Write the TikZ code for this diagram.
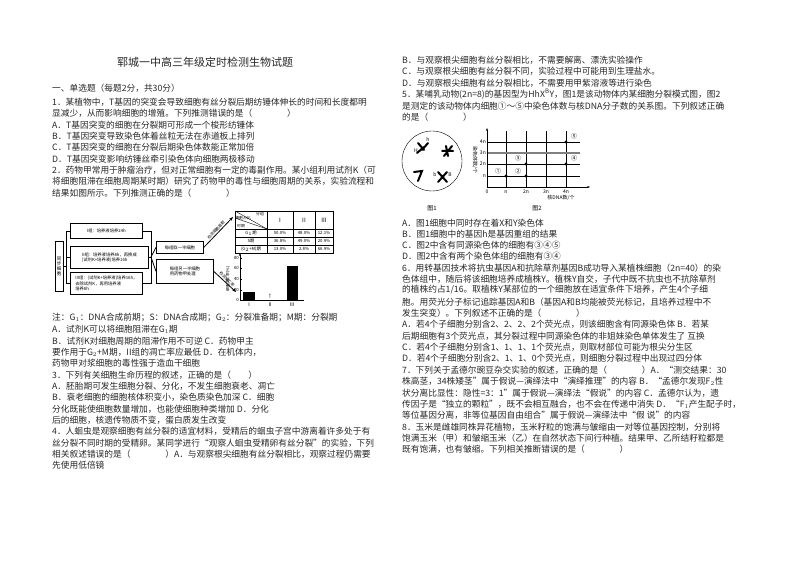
\documentclass[tikz,border=0pt]{standalone}
\usepackage{fontspec}
\setmainfont{Noto Sans CJK SC}
\usetikzlibrary{arrows.meta}
\newcommand\tl[3]{\node[txt] (#1) at (52,#2) {#3};}
\newcommand\tr[3]{\node[txt] (#1) at (402,#2) {#3};}
\begin{document}
\begin{tikzpicture}[x=1pt,y=-1pt,
  txt/.style={anchor=west,inner sep=0,font=\fontsize{8.7}{10}\selectfont,text=black!85},
  tiny/.style={inner sep=0,font=\fontsize{4.3}{5}\selectfont},
  bx/.style={draw,thick,inner sep=1pt,font=\fontsize{4.3}{5.2}\selectfont,align=left,anchor=north west},
  dot/.style={circle,fill,inner sep=1.1pt}]
\useasboundingbox (0,0) rectangle (794,561);
\node[font=\fontsize{11}{12}\selectfont,text=black!85] (title) at (205,62) {郓城一中高三年级定时检测生物试题};
\tl{s0}{88}{一、单选题（每题2分，共30分）}
\tl{a1}{102}{1．某植物中，T基因的突变会导致细胞有丝分裂后期纺锤体伸长的时间和长度都明}
\tl{a2}{113}{显减少，从而影响细胞的增殖。下列推测错误的是（　　　　）}
\tl{a3}{125}{A．T基因突变的细胞在分裂期可形成一个梭形纺锤体}
\tl{a4}{136}{B．T基因突变导致染色体着丝粒无法在赤道板上排列}
\tl{a5}{147}{C．T基因突变的细胞在分裂后期染色体数能正常加倍}
\tl{a6}{159}{D．T基因突变影响纺锤丝牵引染色体向细胞两极移动}
\tl{a7}{170}{2．药物甲常用于肿瘤治疗，但对正常细胞有一定的毒副作用。某小组利用试剂K（可}
\tl{a8}{181}{将细胞阻滞在细胞周期某时期）研究了药物甲的毒性与细胞周期的关系，实验流程和}
\tl{a9}{193}{结果如图所示。下列推测正确的是（　　　　）}
\tl{b1}{318}{注：G$_1$：DNA合成前期；S：DNA合成期；G$_2$：分裂准备期；M期：分裂期}
\tl{b2}{329}{A．试剂K可以将细胞阻滞在G$_1$期}
\tl{b3}{341}{B．试剂K对细胞周期的阻滞作用不可逆 C．药物甲主}
\tl{b4}{352}{要作用于G$_2$+M期，II组的凋亡率应最低 D．在机体内，}
\tl{b5}{363}{药物甲对浆细胞的毒性强于造血干细胞}
\tl{b6}{375}{3．下列有关细胞生命历程的叙述，正确的是（　　）}
\tl{b7}{386}{A．胚胎期可发生细胞分裂、分化，不发生细胞衰老、凋亡}
\tl{b8}{397}{B．衰老细胞的细胞核体积变小，染色质染色加深 C．细胞}
\tl{b9}{409}{分化既能使细胞数量增加，也能使细胞种类增加 D．分化}
\tl{b10}{420}{后的细胞，核遗传物质不变，蛋白质发生改变}
\tl{b11}{431}{4．人蛔虫是观察细胞有丝分裂的适宜材料，受精后的蛔虫子宫中游离着许多处于有}
\tl{b12}{443}{丝分裂不同时期的受精卵。某同学进行“观察人蛔虫受精卵有丝分裂”的实验，下列}
\tl{b13}{454}{相关叙述错误的是（　　　　）A．与观察根尖细胞有丝分裂相比，观察过程仍需要}
\tl{b14}{465}{先使用低倍镜}
% right column
\tr{c1}{60}{B．与观察根尖细胞有丝分裂相比，不需要解离、漂洗实验操作}
\tr{c2}{71}{C．与观察根尖细胞有丝分裂不同，实验过程中可能用到生理盐水。}
\tr{c3}{83}{D．与观察根尖细胞有丝分裂相比，不需要用甲紫溶液等进行染色}
\tr{c4}{94}{5．某哺乳动物(2n=8)的基因型为HhX$^{\rm B}$Y，图1是该动物体内某细胞分裂模式图，图2}
\tr{c5}{106}{是测定的该动物体内细胞①～⑤中染色体数与核DNA分子数的关系图。下列叙述正确}
\tr{c6}{117}{的是（　　　　）}
\tr{d1}{223}{A．图1细胞中同时存在着X和Y染色体}
\tr{d2}{234}{B．图1细胞中的基因h是基因重组的结果}
\tr{d3}{245}{C．图2中含有同源染色体的细胞有③④⑤}
\tr{d4}{256}{D．图2中含有两个染色体组的细胞有③④}
\tr{e1}{268}{6．用转基因技术将抗虫基因A和抗除草剂基因B成功导入某植株细胞（2n=40）的染}
\tr{e2}{279}{色体组中，随后将该细胞培养成植株Y。植株Y自交，子代中既不抗虫也不抗除草剂}
\tr{e3}{290}{的植株约占1/16。取植株Y某部位的一个细胞放在适宜条件下培养，产生4个子细}
\tr{e4}{302}{胞。用荧光分子标记追踪基因A和B（基因A和B均能被荧光标记，且培养过程中不}
\tr{e5}{313}{发生突变）。下列叙述不正确的是（　　　　）}
\tr{e6}{324}{A．若4个子细胞分别含2、2、2、2个荧光点，则该细胞含有同源染色体 B．若某}
\tr{e7}{336}{后期细胞有3个荧光点，其分裂过程中同源染色体的非姐妹染色单体发生了 互换}
\tr{e8}{347}{C．若4个子细胞分别含1、1、1、1个荧光点，则取材部位可能为根尖分生区}
\tr{e9}{358}{D．若4个子细胞分别含2、1、1、0个荧光点，则细胞分裂过程中出现过四分体}
\tr{f1}{370}{7．下列关于孟德尔豌豆杂交实验的叙述，正确的是（　　　　）A．“测交结果：30}
\tr{f2}{381}{株高茎，34株矮茎”属于假说—演绎法中“演绎推理”的内容 B．“孟德尔发现F$_2$性}
\tr{f3}{393}{状分离比显性：隐性=3：1”属于假说—演绎法“假说”的内容 C．孟德尔认为，遗}
\tr{f4}{404}{传因子是“独立的颗粒”，既不会相互融合，也不会在传递中消失 D．“F$_1$产生配子时，}
\tr{f5}{415}{等位基因分离，非等位基因自由组合”属于假说—演绎法中“假 说”的内容}
\tr{g1}{427}{8．玉米是雌雄同株异花植物，玉米籽粒的饱满与皱缩由一对等位基因控制，分别将}
\tr{g2}{438}{饱满玉米（甲）和皱缩玉米（乙）在自然状态下间行种植。结果甲、乙所结籽粒都是}
\tr{g3}{449}{既有饱满，也有皱缩。下列相关推断错误的是（　　　　）}
% ---- left diagram
\node[draw,thick,minimum width=8pt,minimum height=50pt,inner sep=0,font=\fontsize{4.5}{5}\selectfont,align=center] (sync) at (59,266) {同\\步\\细\\胞};
\node[bx,minimum width=72pt,minimum height=15pt] (g1) at (70,223) {I组：培养液培养24h};
\node[bx,minimum width=78pt,minimum height=22pt] (g2) at (70,246) {II组：培养液培养8h，再换成\\(试剂K+培养液)培养16h};
\node[bx,minimum width=72pt,minimum height=22pt] (g3) at (70,272) {III组：(试剂K+培养液)培养16h，\\去除试剂K，再用培养液\\培养8h};
\coordinate (lb) at (66,266);
\draw[thick] (sync.east) -- (lb);
\draw[thick] (lb |- g1.west) -- (g1.west);
\draw[thick] (lb |- g3.west) -- (g3.west);
\draw[thick] (lb |- g1.west) -- (lb |- g3.west);
\draw[thick] (lb |- g2.west) -- (g2.west);
\coordinate (rb) at (151,257);
\draw[thick] (g1.east) -- (rb |- g1.east) -- (rb |- g3.east) -- (g3.east);
\draw[thick] (g2.east) -- (rb |- g2.east);
\node[bx,minimum width=47pt,minimum height=12pt] (h1) at (156,241) {每组取一半细胞};
\node[bx,minimum width=57pt,minimum height=24pt] (h2) at (156,259) {每组另一半细胞\\用药物甲处理};
\draw[thick] (rb) -- (h1.west);
\draw[thick] (rb) -- (h2.west);
% table
\draw[thick] (235,211) rectangle (333,253);
\foreach \yy in {229,237,245} \draw (235,\yy) -- (333,\yy);
\foreach \xx in {267,293,315} \draw (\xx,211) -- (\xx,253);
\draw (235,211) -- (267,229); \draw (235,218) -- (267,229);
\node[tiny,font=\fontsize{3.8}{4}\selectfont] (th1) at (260,214.5) {分组};
\node[tiny,font=\fontsize{3.8}{4}\selectfont] (th2) at (243,218.5) {细胞占比};
\node[tiny,font=\fontsize{3.8}{4}\selectfont] (th3) at (241,226) {时期};
\node[tiny,font=\fontsize{6}{6}\selectfont] (c1h) at (280,220) {I};
\node[tiny,font=\fontsize{6}{6}\selectfont] (c2h) at (304,220) {II};
\node[tiny,font=\fontsize{6}{6}\selectfont] (c3h) at (324,220) {III};
\node[tiny] (r1) at (251,233) {G$_1$期}; \node[tiny] (r1a) at (280,233) {50.0\%}; \node[tiny] (r1b) at (304,233) {48.0\%}; \node[tiny] (r1c) at (324,233) {12.1\%};
\node[tiny] (r2) at (251,241) {S期}; \node[tiny] (r2a) at (280,241) {36.8\%}; \node[tiny] (r2b) at (304,241) {49.0\%}; \node[tiny] (r2c) at (324,241) {20.9\%};
\node[tiny] (r3) at (251,249) {(G$_2$+M)期}; \node[tiny] (r3a) at (280,249) {13.0\%}; \node[tiny] (r3b) at (304,249) {2.8\%}; \node[tiny] (r3c) at (324,249) {66.9\%};
% bar chart
\draw[thick,-{Stealth[length=3pt]}] (240,300) -- (240,253);
\draw[thick] (240,300) -- (304,300);
\foreach \v/\yy in {0/300,20/290,40/279,60/268,80/258} {\draw (240,\yy) -- (242,\yy); \node[tiny,anchor=east] at (239,\yy) {\v};}
\node[tiny,rotate=90,font=\fontsize{3.8}{4}\selectfont] (ylab) at (228,279) {细胞凋亡率(\%)};
\fill (243,292) rectangle (255,300);
\fill (287,266) rectangle (298,300);
\node[tiny] (dag) at (270,296) {$\dagger$};
\node[tiny,font=\fontsize{5}{5}\selectfont] (x1) at (249,305) {I};
\node[tiny,font=\fontsize{5}{5}\selectfont] (x2) at (270,305) {II};
\node[tiny,font=\fontsize{5}{5}\selectfont] (x3) at (292,305) {III};
\coordinate (tabin) at (233,217);
\coordinate (chin) at (236,292);
\draw[thick,-{Stealth[length=4pt]}] (h1.east) -- node[tiny,font=\fontsize{3.8}{4}\selectfont,above,sloped,inner sep=1pt] {检测细胞周期} (tabin);
\draw[thick,-{Stealth[length=4pt]}] (h2.east) -- node[tiny,font=\fontsize{3.8}{4}\selectfont,above,sloped,inner sep=1pt] {检测凋亡率} (chin);
% right figure 1
\node[draw,circle,minimum size=60pt,inner sep=0] (cell) at (432,161) {};
\begin{scope}[line width=2pt,line cap=round]
\draw (418,143) -- (424,150) (428,143) -- (422,150) (417,153) -- (424,147);
\draw (446,146) -- (448,156) (442,151) -- (453,151) (444,156) -- (452,146);
\draw (414,172) -- (422,171) -- (418,181);
\draw (438,172) -- (447,182) (447,172) -- (438,182);
\end{scope}
\node[tiny,font=\fontsize{5}{5}\selectfont] (hh) at (428,140) {h};
\node[tiny,font=\fontsize{5}{5}\selectfont] (HH) at (416,151) {H};
\node[tiny,font=\fontsize{5}{5}\selectfont] (bb) at (435,175) {b};
\node[tiny,font=\fontsize{5}{5}\selectfont] (BB) at (450,175) {B};
\node[tiny,font=\fontsize{6}{6}\selectfont] (f1) at (432,208) {图1};
% figure 2
\foreach \xx in {506,526,546,566} \draw[thick] (\xx,131) -- (\xx,187);
\foreach \yy in {176,164,142} \draw[thick] (487,\yy) -- (580,\yy);
\draw[line width=1.6pt,gray] (487,153) -- (580,153);
\draw[thick,-{Stealth[length=3pt]}] (487,187) -- (590,187);
\draw[thick,-{Stealth[length=3pt]}] (487,187) -- (487,128);
\node[tiny,font=\fontsize{5}{5}\selectfont] at (487,192) {0};
\foreach \xx/\t in {506/n,526/2n,546/3n,566/4n} \node[tiny,font=\fontsize{5}{5}\selectfont] at (\xx,192) {\t};
\foreach \yy/\t in {176/n,164/2n,153/3n,142/4n} \node[tiny,font=\fontsize{5}{5}\selectfont,anchor=east] at (486,\yy) {\t};
\node[tiny,font=\fontsize{5}{5}\selectfont] (xl) at (561,198) {核DNA数/个};
\node[tiny,font=\fontsize{5}{5}\selectfont,rotate=-90] (yl) at (475,160) {染色体数/个};
\node[dot] (p1) at (506,176) {}; \node[dot] (p2) at (526,176) {};
\node[dot] (p3) at (526,164) {}; \node[dot] (p4) at (566,164) {};
\node[dot] (p5) at (566,142) {};
\node[tiny,font=\fontsize{6}{6}\selectfont] at (498,171) {①};
\node[tiny,font=\fontsize{6}{6}\selectfont] at (518,171) {②};
\node[tiny,font=\fontsize{6}{6}\selectfont] at (518,158) {③};
\node[tiny,font=\fontsize{6}{6}\selectfont] at (574,158) {④};
\node[tiny,font=\fontsize{6}{6}\selectfont] at (574,136) {⑤};
\node[tiny,font=\fontsize{6}{6}\selectfont] (f2) at (537,208) {图2};
\end{tikzpicture}
\end{document}
